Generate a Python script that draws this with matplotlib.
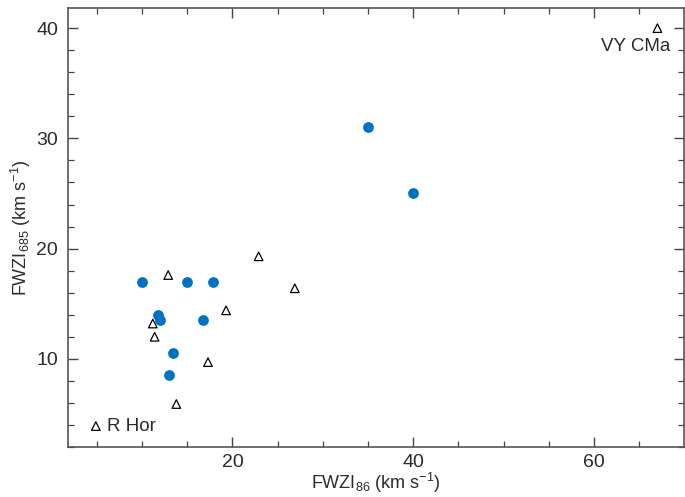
import matplotlib
matplotlib.use("Agg")
import matplotlib.pyplot as plt
from matplotlib.ticker import MultipleLocator

plt.rcParams['font.family'] = ['Liberation Sans', 'DejaVu Sans']
plt.rcParams['mathtext.default'] = 'regular'

# filled circles
circ_x = [10.0, 11.8, 12.0, 15.0, 17.9, 16.8, 13.4, 13.0, 35.0, 40.0]
circ_y = [17.0, 14.0, 13.5, 17.0, 17.0, 13.5, 10.5, 8.5, 31.0, 25.0]

# open triangles
tri_x = [12.9, 11.2, 11.4, 13.8, 17.3, 19.3, 22.9, 26.9, 4.9, 67.0]
tri_y = [17.6, 13.2, 12.0, 5.9, 9.7, 14.4, 19.3, 16.4, 3.9, 40.0]

names = ['R Hor', 'VY CMa']
name_x = [4.9, 67.0]
name_y = [3.9, 40.0]

col = '#0072c3'
txt = '#2b2b2b'

fig = plt.figure(figsize=(6.85, 4.97), dpi=100)
ax = fig.add_axes([0.099, 0.1006, 0.899, 0.8827])

ax.scatter(circ_x, circ_y, s=60, color=col, zorder=3, linewidths=0)
ax.scatter(tri_x, tri_y, s=38, marker='^', facecolors='none',
           edgecolors='black', linewidths=0.9, zorder=4)

ax.text(name_x[0] + 1.2, name_y[0], names[0], fontsize=13.5, color=txt,
        va='center', ha='left')
ax.text(name_x[1] + 1.4, name_y[1] - 1.7, names[1], fontsize=13.5, color=txt,
        va='center', ha='right')

ax.set_xlim(1.8, 69.9)
ax.set_ylim(2, 41.8)
ax.xaxis.set_major_locator(MultipleLocator(20))
ax.xaxis.set_minor_locator(MultipleLocator(5))
ax.yaxis.set_major_locator(MultipleLocator(10))
ax.yaxis.set_minor_locator(MultipleLocator(2))
ax.tick_params(which='both', direction='in', top=True, right=True,
               colors='#444444', labelcolor=txt, labelsize=14)
ax.tick_params(which='major', length=7, width=1)
ax.tick_params(axis='y', which='major', pad=7)
ax.tick_params(axis='x', which='major', pad=5)
ax.tick_params(which='minor', length=4, width=0.9)
for s in ax.spines.values():
    s.set_color('#555555')
    s.set_linewidth(1.2)

ax.set_xlabel('FWZI$_{86}$ (km s$^{−1}$)', fontsize=13, color=txt, labelpad=0)
ax.set_ylabel('FWZI$_{685}$ (km s$^{−1}$)', fontsize=13, color=txt, labelpad=2)

fig.savefig('out.png', dpi=100)
